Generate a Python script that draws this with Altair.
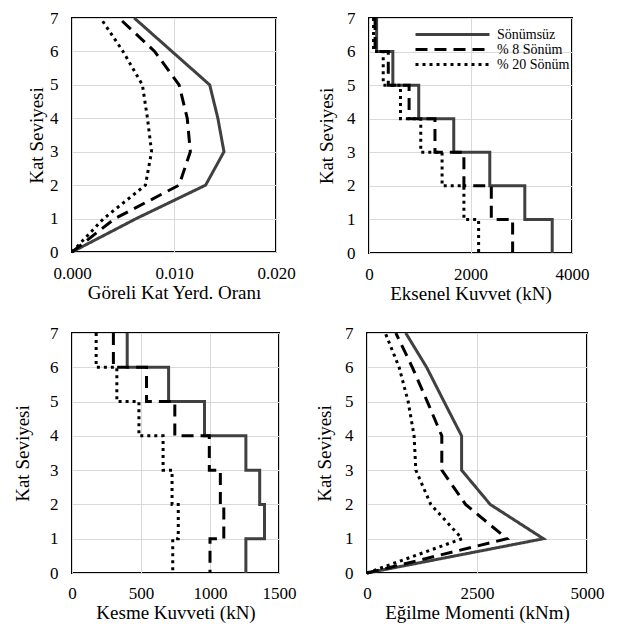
import altair as alt
import pandas as pd

series = ["Sönümsüz", "% 8 Sönüm", "% 20 Sönüm"]
colors = ["#404040", "#000000", "#000000"]
dashes = [[1, 0], [12, 7], [3, 4]]

floors = [0, 1, 2, 3, 4, 5, 6, 7]
stories = [1, 2, 3, 4, 5, 6, 7]

# Panel 1: Göreli Kat Yerdeğiştirme Oranı (per floor)
drift_solid = [0, 0.0063, 0.0131, 0.0149, 0.0143, 0.0135, 0.0098, 0.0061]
drift_8 = [0, 0.0042, 0.0105, 0.0116, 0.0113, 0.0105, 0.0081, 0.0046]
drift_20 = [0, 0.0031, 0.0072, 0.0078, 0.0074, 0.0069, 0.0050, 0.0028]

# Panel 2: Eksenel Kuvvet (per story)
axial_solid = [3610, 3070, 2380, 1670, 980, 470, 150]
axial_8 = [2830, 2410, 1870, 1300, 790, 380, 120]
axial_20 = [2160, 1870, 1440, 1020, 620, 280, 90]

# Panel 3: Kesme Kuvveti (per story)
shear_solid = [1260, 1395, 1360, 1260, 960, 700, 400]
shear_8 = [1000, 1100, 1075, 995, 745, 540, 300]
shear_20 = [730, 770, 725, 660, 485, 325, 175]

# Panel 4: Eğilme Momenti (per floor)
moment_solid = [0, 4010, 2800, 2150, 2150, 1750, 1355, 880]
moment_8 = [0, 3180, 2240, 1700, 1700, 1370, 1030, 655]
moment_20 = [0, 2160, 1450, 1110, 1070, 935, 730, 415]


def floor_table(vals_list):
    rows = []
    for name, vals in zip(series, vals_list):
        for i, (f, v) in enumerate(zip(floors, vals)):
            rows.append({"seri": name, "kat": f, "deger": v, "sira": i})
    return pd.DataFrame(rows)


def step_table(vals_list):
    rows = []
    for name, vals in zip(series, vals_list):
        k = 0
        for s, v in sorted(zip(stories, vals), reverse=True):
            rows.append({"seri": name, "kat": s, "deger": v, "sira": k}); k += 1
            rows.append({"seri": name, "kat": s - 1, "deger": v, "sira": k}); k += 1
    return pd.DataFrame(rows)


FONT = "Liberation Serif"


def panel(df, xtitle, xdom, xvals, fmt, w, h, legend=False, ytp=10, xlp=12, xtp=2):
    leg = None
    if legend:
        leg = alt.Legend(title=None, orient="none", legendX=45, legendY=9,
                         symbolType="stroke", symbolSize=5476, symbolStrokeWidth=3,
                         labelFont=FONT, labelFontSize=14, labelColor="black",
                         labelOffset=6, padding=0, rowPadding=0, clipHeight=15)
    common = dict(labelFont=FONT, labelFontSize=17, labelColor="black", labelFlush=False,
                  titleFont=FONT, titleFontSize=19, titleFontWeight="normal", titleColor="black")
    return alt.Chart(df).mark_line(strokeWidth=3).encode(
        x=alt.X("deger:Q", title=xtitle,
                scale=alt.Scale(domain=xdom, nice=False),
                axis=alt.Axis(values=xvals, format=fmt, labelPadding=xlp, titlePadding=xtp, **common)),
        y=alt.Y("kat:Q", title="Kat Seviyesi",
                scale=alt.Scale(domain=[0, 7], nice=False),
                axis=alt.Axis(values=floors, labelPadding=14, titlePadding=ytp, **common)),
        color=alt.Color("seri:N", scale=alt.Scale(domain=series, range=colors), legend=leg),
        strokeDash=alt.StrokeDash("seri:N", scale=alt.Scale(domain=series, range=dashes), legend=leg),
        order=alt.Order("sira:Q"),
        detail="seri:N",
    ).properties(width=w, height=h)


p1 = panel(floor_table([drift_solid, drift_8, drift_20]), "Göreli Kat Yerd. Oranı",
           [0, 0.02], [0, 0.01, 0.02], ".3f", 204, 234, ytp=3, xlp=13, xtp=2)
p2 = panel(step_table([axial_solid, axial_8, axial_20]), "Eksenel Kuvvet (kN)",
           [0, 4000], [0, 2000, 4000], "d", 203, 235, legend=True, xlp=13, xtp=2)
p3 = panel(step_table([shear_solid, shear_8, shear_20]), "Kesme Kuvveti (kN)",
           [0, 1500], [0, 500, 1000, 1500], "d", 207, 240, ytp=17)
p4 = panel(floor_table([moment_solid, moment_8, moment_20]), "Eğilme Momenti (kNm)",
           [0, 5000], [0, 2500, 5000], "d", 220, 240)

ind = dict(color="independent", strokeDash="independent")
row1 = alt.hconcat(p1, p2, spacing=19).resolve_scale(**ind)
row2 = alt.hconcat(p3, p4, spacing=17).resolve_scale(**ind)

chart = alt.concat(row1, row2, columns=1, spacing=19, align="none").resolve_scale(**ind).properties(
    padding={"left": 4, "top": 0, "right": 0, "bottom": 0}
).configure(
    background="white"
).configure_view(
    stroke="black", strokeWidth=2
).configure_axis(
    grid=True, gridColor="#d9d9d9", gridWidth=1, domain=False, ticks=False,
)

chart.save("out.html", embed_options={"renderer": "svg", "actions": False})
